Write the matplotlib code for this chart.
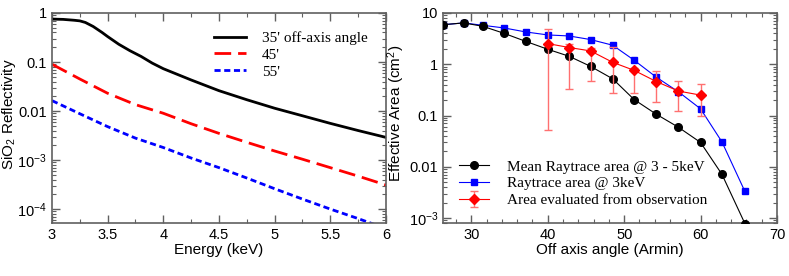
"""
Reflectivity and effective-area panels (log scale)
"""

import matplotlib
matplotlib.use("Agg")
import matplotlib.pyplot as plt
import matplotlib.ticker as mticker
import numpy as np

# ---- left panel: SiO2 reflectivity vs energy ----
energy_35 = [3.0, 3.1, 3.2, 3.25, 3.3, 3.37, 3.45, 3.5, 3.6, 3.7, 3.8, 3.9,
             4.0, 4.25, 4.5, 4.75, 5.0, 5.25, 5.5, 5.75, 6.0]
refl_35 = [0.75, 0.74, 0.71, 0.69, 0.64, 0.53, 0.40, 0.33, 0.23, 0.17, 0.13,
           0.095, 0.073, 0.043, 0.026, 0.017, 0.0114, 0.008, 0.0056, 0.0040, 0.0029]

energy_grid = [3.0, 3.25, 3.5, 3.75, 4.0, 4.25, 4.5, 4.75, 5.0, 5.25, 5.5, 5.75, 6.0]
refl_45 = [0.09, 0.045, 0.023, 0.0135, 0.009, 0.0055, 0.0035, 0.0023, 0.00153,
           0.00104, 7.0e-4, 4.7e-4, 3.1e-4]
refl_55 = [0.0163, 0.0088, 0.0048, 0.0028, 0.0018, 0.0011, 7.0e-4, 4.3e-4,
           2.6e-4, 1.6e-4, 1.0e-4, 6.4e-5, 4.0e-5]

# ---- right panel: effective area vs off-axis angle ----
angle = [26.3, 29.0, 31.5, 34.3, 37.1, 40.0, 42.8, 45.6, 48.5, 51.3, 54.2,
         57.1, 60.0, 62.8, 65.8]
area_mean = [5.9, 6.4, 5.5, 4.0, 2.8, 1.96, 1.43, 0.91, 0.52, 0.205, 0.106,
             0.059, 0.0298, 0.0071, 7.8e-4]
area_3kev = [5.9, 6.4, 5.75, 5.1, 4.27, 3.73, 3.56, 3.03, 2.35, 1.2, 0.56,
             0.29, 0.135, 0.0305, 0.0033]

obs_angle = [40.0, 42.8, 45.6, 48.5, 51.3, 54.2, 57.1, 60.0]
obs_area = [2.53, 2.12, 1.82, 1.09, 0.76, 0.46, 0.30, 0.25]
obs_hi = [4.97, 2.5, 2.1, 2.17, 0.85, 0.74, 0.48, 0.41]
obs_lo = [0.053, 0.336, 0.47, 0.27, 0.28, 0.18, 0.12, 0.10]

SANS = ["Liberation Sans", "DejaVu Sans"]
SERIF = ["Liberation Serif", "DejaVu Serif"]
plt.rcParams["font.family"] = SANS
plt.rcParams["mathtext.fontset"] = "custom"
plt.rcParams["mathtext.rm"] = "Liberation Sans"
plt.rcParams["mathtext.it"] = "Liberation Sans:italic"


def log_label(v, pos):
    if v >= 0.01:
        return f"{v:g}"
    exp = int(round(np.log10(v)))
    return f"$10^{{{exp}}}$"


def style_axes(ax):
    for s in ax.spines.values():
        s.set_color("#606060")
        s.set_linewidth(1.2)
    ax.tick_params(which="both", direction="in", top=True, right=True,
                   colors="#606060", labelcolor="black", labelsize=10.5)
    ax.tick_params(which="major", length=6, width=1)
    ax.tick_params(which="minor", length=3, width=0.8)
    ax.yaxis.set_major_formatter(mticker.FuncFormatter(log_label))
    ax.yaxis.set_minor_locator(mticker.LogLocator(base=10, subs=np.arange(2, 10)))
    ax.yaxis.set_minor_formatter(mticker.NullFormatter())


fig = plt.figure(figsize=(7.89, 2.76), dpi=100)

# left panel
ax1 = fig.add_axes([0.0659, 0.192, 0.4233, 0.761])
ax1.set_yscale("log")
ax1.plot(energy_35, refl_35, color="black", lw=2.0, label="35' off-axis angle")
ax1.plot(energy_grid, refl_45, color="#ff0000", lw=2.0, dashes=(6, 2.5), label="45'")
ax1.plot(energy_grid, refl_55, color="#0000ff", lw=2.0, dashes=(2.2, 1.3), label="55'")
ax1.set_xlim(3, 6)
ax1.set_ylim(5.2e-5, 1)
ax1.xaxis.set_major_locator(mticker.MultipleLocator(0.5))
ax1.xaxis.set_minor_locator(mticker.MultipleLocator(0.25))
ax1.xaxis.set_major_formatter(mticker.FuncFormatter(lambda v, p: f"{v:g}"))
style_axes(ax1)
ax1.set_xlabel("Energy (keV)", fontsize=11, labelpad=1)
ax1.set_ylabel("SiO$_2$ Reflectivity", fontsize=11)
ax1.yaxis.set_label_coords(-0.101, 0.52)
ax1.legend(loc="upper right", bbox_to_anchor=(0.964, 0.942), frameon=False,
           prop={"family": SERIF, "size": 11}, handlelength=2.1,
           handletextpad=1.05, labelspacing=0.2, borderaxespad=0)

# right panel
ax2 = fig.add_axes([0.5615, 0.192, 0.4233, 0.761])
ax2.set_yscale("log")
ax2.plot(angle, area_3kev, color="#0000ff", lw=0.8, marker="s", ms=5,
         label="Raytrace area @ 3keV", zorder=2)
ax2.plot(angle, area_mean, color="black", lw=0.8, marker="o", ms=5.5,
         label="Mean Raytrace area @ 3 - 5keV", zorder=3)
yerr = [np.array(obs_area) - np.array(obs_lo), np.array(obs_hi) - np.array(obs_area)]
ax2.errorbar(obs_angle, obs_area, yerr=yerr, color="#ff0000", lw=0.8,
             marker="D", ms=5.5, ecolor="#ff7070", elinewidth=1, capsize=3,
             label="Area evaluated from observation", zorder=4)
ax2.set_xlim(26.3, 70)
ax2.set_ylim(8e-4, 10)
ax2.xaxis.set_major_locator(mticker.MultipleLocator(10))
ax2.xaxis.set_minor_locator(mticker.MultipleLocator(2))
style_axes(ax2)
ax2.set_xlabel("Off axis angle (Armin)", fontsize=11, labelpad=1)
ax2.set_ylabel("Effective Area (cm$^2$)", fontsize=11)
ax2.yaxis.set_label_coords(-0.108, 0.524)
handles, labels = ax2.get_legend_handles_labels()
order = [1, 0, 2]
ax2.legend([handles[i] for i in order], [labels[i] for i in order],
           loc="lower left", bbox_to_anchor=(0.031, 0.046), frameon=False,
           prop={"family": SERIF, "size": 11}, handlelength=1.96,
           handletextpad=1.18, labelspacing=0.2, borderaxespad=0)

fig.savefig("out.png", dpi=100)
plt.close(fig)
